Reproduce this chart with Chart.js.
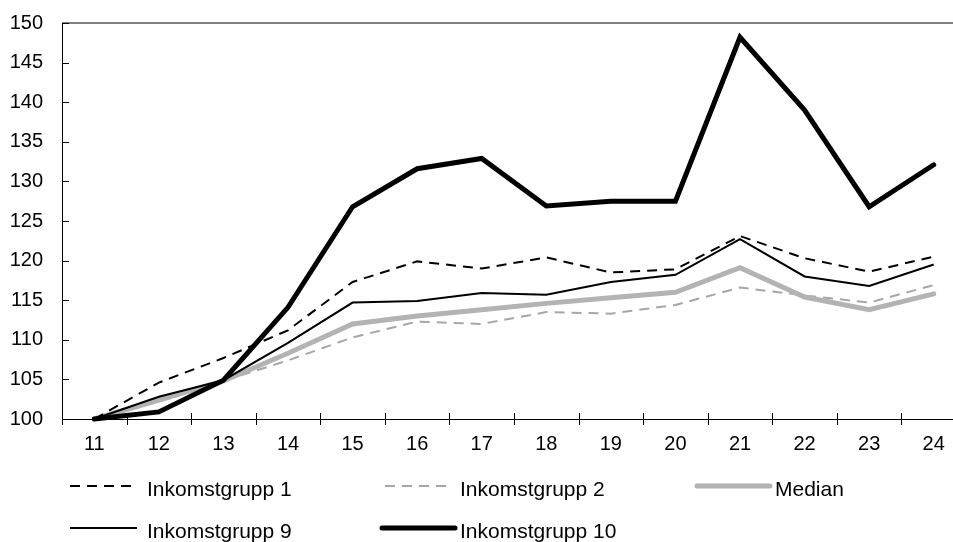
<!DOCTYPE html>
<html>
<head>
<meta charset="utf-8">
<script src="https://cdn.jsdelivr.net/npm/chart.js@4/dist/chart.umd.min.js"></script>
<style>
  html, body { margin: 0; padding: 0; background: #fff; overflow: hidden; }
  #wrap { width: 966px; height: 542px; }
</style>
</head>
<body>
<div id="wrap"><canvas id="lineChart" width="966" height="542"></canvas></div>
<script>
// år (kategorier)
const years = ['11', '12', '13', '14', '15', '16', '17', '18', '19', '20', '21', '22', '23', '24'];

// index, år 11 = 100
const grupp1  = [100, 104.6, 107.7, 111.2, 117.3, 119.9, 119.0, 120.4, 118.5, 118.9, 123.1, 120.3, 118.6, 120.5];
const grupp2  = [100, 102.2, 104.8, 107.4, 110.3, 112.3, 112.0, 113.5, 113.3, 114.4, 116.6, 115.6, 114.7, 116.9];
const median  = [100, 102.4, 104.8, 108.3, 112.0, 113.0, 113.8, 114.6, 115.3, 116.0, 119.1, 115.4, 113.8, 115.8];
const grupp9  = [100, 102.8, 104.9, 109.6, 114.7, 114.9, 115.9, 115.7, 117.3, 118.2, 122.7, 118.0, 116.8, 119.5];
const grupp10 = [100, 100.9, 104.9, 114.1, 126.8, 131.6, 132.9, 126.9, 127.5, 127.5, 148.2, 139.0, 126.8, 132.1];

const FONT = "'Liberation Sans', Arial, sans-serif";

// axlar, tickmarkeringar och ram
const axisPlugin = {
    id: 'axisPlugin',
    afterDraw(chart) {
        const ctx = chart.ctx;
        const a = chart.chartArea;
        const xs = chart.scales.x;
        const ys = chart.scales.y;
        ctx.save();
        // grå ram överst
        ctx.strokeStyle = '#808080';
        ctx.lineWidth = 2;
        ctx.beginPath();
        ctx.moveTo(a.left, a.top);
        ctx.lineTo(a.right, a.top);
        ctx.stroke();

        ctx.strokeStyle = '#000';
        ctx.lineWidth = 1;
        ctx.beginPath();
        // y-axel
        ctx.moveTo(a.left + 0.5, a.top);
        ctx.lineTo(a.left + 0.5, a.bottom + 6);
        // x-axel
        ctx.moveTo(a.left, a.bottom + 0.5);
        ctx.lineTo(a.right, a.bottom + 0.5);
        // x-ticks mellan kategorierna
        const half = (xs.getPixelForTick(1) - xs.getPixelForTick(0)) / 2;
        for (let i = 1; i < years.length; i++) {
            const px = Math.round(xs.getPixelForTick(i) - half) + 0.5;
            ctx.moveTo(px, a.bottom - 6);
            ctx.lineTo(px, a.bottom + 6);
        }
        // y-ticks innåt
        ys.ticks.forEach((t, i) => {
            const py = Math.round(ys.getPixelForTick(i)) + 0.5;
            ctx.moveTo(a.left, py);
            ctx.lineTo(a.left + 7, py);
        });
        ctx.stroke();
        ctx.restore();
    }
};

// legend på fasta platser, två rader
const legendPlugin = {
    id: 'legendPlugin',
    afterDraw(chart) {
        const ctx = chart.ctx;
        const slots = [
            { x0: 70,  x1: 135, tx: 147, ly: 486, ty: 496 },
            { x0: 385, x1: 450, tx: 460, ly: 486, ty: 496 },
            { x0: 697, x1: 770, tx: 775, ly: 486, ty: 496 },
            { x0: 70,  x1: 137, tx: 147, ly: 528, ty: 538 },
            { x0: 382, x1: 455, tx: 460, ly: 528, ty: 538 }
        ];
        ctx.save();
        chart.data.datasets.forEach((ds, i) => {
            const s = slots[i];
            ctx.strokeStyle = ds.borderColor;
            ctx.lineWidth = ds.borderWidth;
            ctx.setLineDash(ds.borderDash || []);
            ctx.lineCap = ds.borderWidth > 3 ? 'round' : 'butt';
            ctx.beginPath();
            ctx.moveTo(s.x0, s.ly);
            ctx.lineTo(s.x1, s.ly);
            ctx.stroke();
            ctx.setLineDash([]);
            ctx.fillStyle = '#000';
            ctx.font = '21px ' + FONT;
            ctx.textBaseline = 'alphabetic';
            ctx.textAlign = 'left';
            ctx.fillText(ds.label, s.tx, s.ty);
        });
        ctx.restore();
    }
};

const ctx = document.getElementById('lineChart').getContext('2d');
const lineChart = new Chart(ctx, {
    type: 'line',
    data: {
        labels: years,
        datasets: [
            {
                label: 'Inkomstgrupp 1',
                data: grupp1,
                borderColor: '#000000',
                borderWidth: 2,
                borderDash: [10, 7],
                order: 3
            },
            {
                label: 'Inkomstgrupp 2',
                data: grupp2,
                borderColor: '#a6a6a6',
                borderWidth: 2,
                borderDash: [10, 7],
                order: 5
            },
            {
                label: 'Median',
                data: median,
                borderColor: '#b3b3b3',
                borderWidth: 5,
                borderCapStyle: 'round',
                order: 4
            },
            {
                label: 'Inkomstgrupp 9',
                data: grupp9,
                borderColor: '#000000',
                borderWidth: 2,
                order: 2
            },
            {
                label: 'Inkomstgrupp 10',
                data: grupp10,
                borderColor: '#000000',
                borderWidth: 5,
                borderCapStyle: 'round',
                order: 1
            }
        ]
    },
    options: {
        responsive: false,
        animation: false,
        devicePixelRatio: 1,
        layout: { padding: { top: 23, bottom: 83, left: 0, right: 0 } },
        elements: {
            point: { radius: 0, hoverRadius: 0 },
            line: { tension: 0, fill: false }
        },
        datasets: { line: { clip: false } },
        plugins: {
            legend: { display: false },
            tooltip: { enabled: false }
        },
        scales: {
            x: {
                offset: true,
                grid: { display: false, drawTicks: false },
                border: { display: false },
                ticks: {
                    color: '#000',
                    font: { family: FONT, size: 20 },
                    padding: 13,
                    maxRotation: 0,
                    autoSkip: false
                },
                afterFit: s => { s.height = 40; }
            },
            y: {
                min: 100,
                max: 150,
                grid: { display: false, drawTicks: false },
                border: { display: false },
                ticks: {
                    stepSize: 5,
                    color: '#000',
                    font: { family: FONT, size: 20 },
                    padding: 19
                },
                afterFit: s => {
                    s.width = 62;
                    s.paddingTop = 0;      // annars läggs tick-padding till överkanten
                    s.paddingBottom = 0;
                }
            }
        }
    },
    plugins: [axisPlugin, legendPlugin]
});
</script>
</body>
</html>
